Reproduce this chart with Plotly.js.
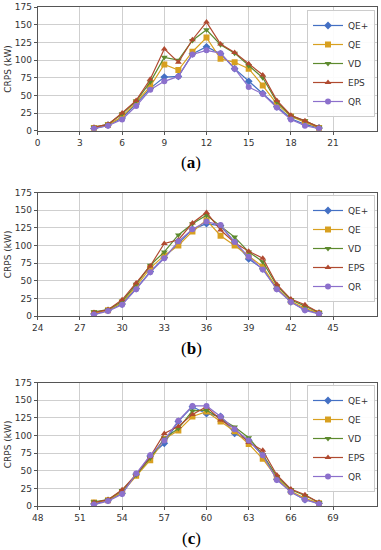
<!DOCTYPE html>
<html>
<head>
<meta charset="utf-8">
<script src="https://cdn.plot.ly/plotly-3.0.1.min.js"></script>
<style>html,body{margin:0;padding:0;background:#fff;}#chart{width:381px;height:550px;}</style>
</head>
<body>
<div id="chart"></div>
<script>
// Panel (a)
const xA = [4,5,6,7,8,9,10,11,12,13,14,15,16,17,18,19,20];
const aQEp = [3,8,18,38,60,76,77,109,119,109,88,70,53,34,17,9,4];
const aQE  = [4,8,20,40,63,94,86,112,132,102,97,88,64,38,20,12,4];
const aVD  = [5,9,24,42,69,104,100,128,143,122,110,92,75,41,21,14,5];
const aEPS = [5,9,25,43,73,116,97,129,154,123,111,95,79,43,22,14,5];
const aQR  = [3,7,16,35,58,70,77,108,114,110,88,62,52,33,16,7,3];
// Panel (b)
const xB = [28,29,30,31,32,33,34,35,36,37,38,39,40,41,42,43,44];
const bQEp = [3,8,17,39,63,83,104,123,131,128,105,81,67,39,20,9,4];
const bQE  = [4,8,19,42,68,86,100,120,136,114,100,85,70,40,21,11,4];
const bVD  = [6,9,21,45,72,91,115,131,143,127,112,91,77,43,23,14,5];
const bEPS = [5,9,23,47,71,103,108,132,147,122,104,92,82,45,24,16,5];
const bQR  = [2,7,16,38,62,82,106,123,134,129,105,84,66,38,20,8,3];
// Panel (c)
const xC = [52,53,54,55,56,57,58,59,60,61,62,63,64,65,66,67,68];
const cQEp = [3,8,18,45,71,89,120,141,131,127,103,93,72,38,20,9,4];
const cQE  = [5,8,20,43,65,95,107,127,134,120,106,88,67,40,21,11,4];
const cVD  = [6,9,22,44,68,96,110,135,136,124,112,97,73,42,23,15,5];
const cEPS = [5,9,23,45,70,103,113,130,141,122,110,90,79,44,24,16,5];
const cQR  = [2,7,17,46,72,93,121,142,142,127,109,93,72,37,20,9,3];

const names = ['QE+','QE','VD','EPS','QR'];
const colors = ['#4470c4','#d8a020','#5d8a2e','#b04a30','#8c70cc'];
const symbols = ['diamond','square','triangle-down','triangle-up','circle'];
const yTicks = [0,25,50,75,100,125,150,175];

const panels = [
  {x:xA, ys:[aQEp,aQE,aVD,aEPS,aQR], xt:[0,3,6,9,12,15,18,21], r:[0,24.1], lbl:'a'},
  {x:xB, ys:[bQEp,bQE,bVD,bEPS,bQR], xt:[24,27,30,33,36,39,42,45], r:[24,48.1], lbl:'b'},
  {x:xC, ys:[cQEp,cQE,cVD,cEPS,cQR], xt:[48,51,54,57,60,63,66,69], r:[48,72.1], lbl:'c'}
];

const H = 550, W = 381;
const yDom = [[130.7,7.3],[316,192.7],[506,382.7]];
const legTop = [10,195,385];
const lblY = [162,348,538];

const traces = [];
const layout = {
  width: W, height: H,
  margin: {l:0,r:0,t:0,b:0},
  paper_bgcolor: '#fff', plot_bgcolor: '#fff',
  font: {family: 'DejaVu Sans, sans-serif', size: 9, color: '#333'},
  annotations: []
};

panels.forEach((p, i) => {
  const sfx = i === 0 ? '' : String(i+1);
  const legName = 'legend' + sfx;
  p.ys.forEach((y, k) => {
    traces.push({
      type: 'scatter', mode: 'lines+markers',
      x: p.x, y: y, name: names[k],
      xaxis: 'x' + sfx, yaxis: 'y' + sfx,
      legend: legName,
      line: {color: colors[k], width: 1.2},
      marker: {color: colors[k], symbol: symbols[k], size: 6}
    });
  });
  const axCommon = {
    showline: true, mirror: true, linecolor: '#555', linewidth: 1,
    showgrid: true, gridcolor: '#cfcfcf', gridwidth: 1,
    zeroline: false, ticks: 'outside', ticklen: 3, tickcolor: '#555',
    tickfont: {size: 9, color: '#333'}
  };
  layout['xaxis' + sfx] = Object.assign({}, axCommon, {
    domain: [37.7/W, 376.7/W], range: p.r,
    tickmode: 'array', tickvals: p.xt, ticktext: p.xt.map(String),
    anchor: 'y' + sfx
  });
  layout['yaxis' + sfx] = Object.assign({}, axCommon, {
    domain: [1 - yDom[i][0]/H, 1 - yDom[i][1]/H], range: [0,175],
    tickmode: 'array', tickvals: yTicks, ticktext: yTicks.map(String),
    anchor: 'x' + sfx,
    title: {text: 'CRPS (kW)', font: {size: 9, color: '#333'}, standoff: 1}
  });
  layout[legName] = {
    x: 375/W, xanchor: 'right', y: 1 - legTop[i]/H, yanchor: 'top',
    bgcolor: 'rgba(255,255,255,0.9)', bordercolor: '#cccccc', borderwidth: 1,
    font: {size: 9, color: '#333'}, itemwidth: 30, tracegroupgap: 0
  };
  layout.annotations.push({
    xref: 'paper', yref: 'paper', x: 191/W, y: 1 - lblY[i]/H,
    xanchor: 'center', yanchor: 'middle', showarrow: false,
    text: '(<b>' + p.lbl + '</b>)',
    font: {family: 'Liberation Serif, serif', size: 17, color: '#000'}
  });
});

Plotly.newPlot('chart', traces, layout, {displayModeBar: false, staticPlot: true});
</script>
</body>
</html>
